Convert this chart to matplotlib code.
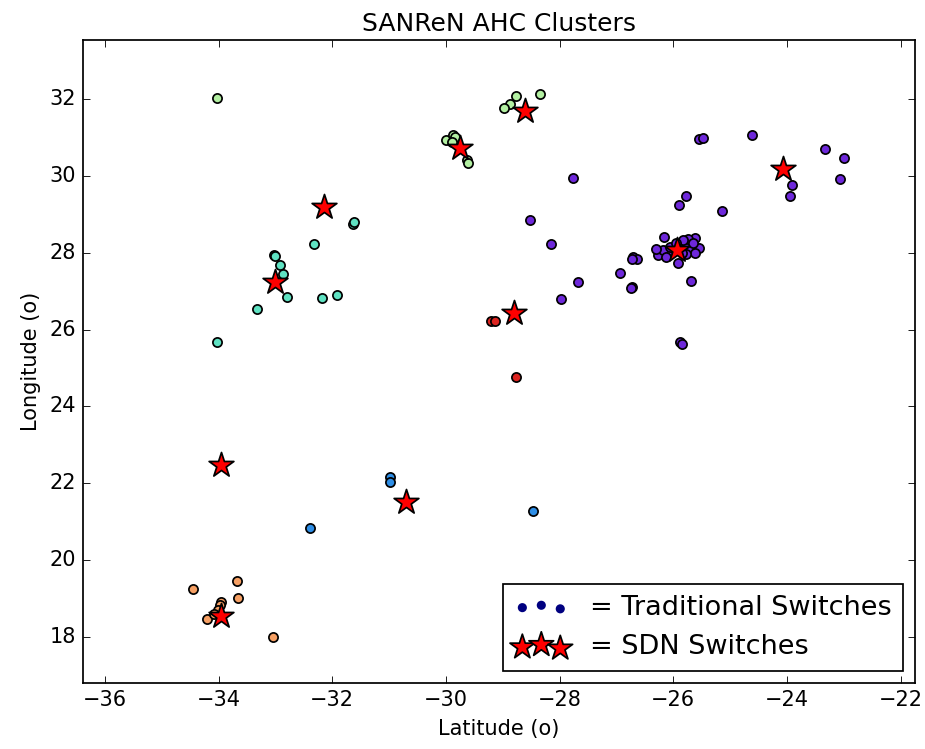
import matplotlib
matplotlib.use("Agg")
import matplotlib.pyplot as plt

plt.style.use("classic")

# cluster points (latitude on x, longitude on y)
purple_lat = [-25.90, -25.14, -26.16, -25.62, -25.54, -26.24, -26.27, -26.09, -26.18, -25.77,
              -25.71, -25.62, -25.78, -25.91, -26.71, -26.64, -26.73, -26.93, -26.72, -26.75,
              -25.69, -25.74, -25.83, -26.05, -25.95, -26.30, -25.65, -26.12, -25.85,
              -28.52, -28.15, -27.68, -27.98, -27.77, -25.78, -25.88, -25.84, -24.62, -25.55,
              -25.48, -23.33, -22.99, -23.06, -23.91, -23.94]
purple_lon = [29.25, 29.08, 28.41, 28.39, 28.11, 28.02, 27.94, 27.94, 28.07, 28.24,
              28.07, 27.98, 27.96, 27.72, 27.89, 27.84, 27.83, 27.48, 27.10, 27.07,
              27.27, 28.37, 28.33, 28.15, 28.25, 28.10, 28.25, 27.90, 28.00,
              28.85, 28.22, 27.24, 26.79, 29.94, 29.47, 25.67, 25.62, 31.07, 30.95,
              30.98, 30.71, 30.46, 29.92, 29.76, 29.47]

blue_lat = [-30.99, -30.99, -32.39, -28.47]
blue_lon = [22.16, 22.02, 20.83, 21.27]

teal_lat = [-31.63, -31.61, -32.32, -33.03, -33.00, -32.92, -32.87, -32.80, -32.18, -31.92,
            -33.33, -34.02]
teal_lon = [28.76, 28.81, 28.22, 27.93, 27.91, 27.68, 27.44, 26.85, 26.83, 26.90,
            26.53, 25.68]

green_lat = [-28.77, -28.35, -28.87, -28.97, -29.99, -29.88, -29.84, -29.90, -29.63, -29.61, -34.03]
green_lon = [32.09, 32.13, 31.86, 31.78, 30.93, 31.06, 31.00, 30.89, 30.41, 30.34, 32.02]

orange_lat = [-34.45, -33.67, -33.66, -33.95, -33.98, -34.01, -34.21, -33.04, -34.08]
orange_lon = [19.24, 19.45, 19.02, 18.91, 18.83, 18.70, 18.46, 17.99, 18.60]

red_lat = [-29.20, -29.14, -28.76]
red_lon = [26.23, 26.22, 24.77]

# SDN switch locations
sdn_lat = [-28.61, -29.75, -32.15, -33.00, -28.80, -25.94, -24.07, -33.96, -30.70, -33.95]
sdn_lon = [31.70, 30.72, 29.20, 27.24, 26.42, 28.07, 30.17, 22.47, 21.51, 18.54]

fig = plt.figure(figsize=(7.4, 5.992), dpi=125)
ax = fig.add_axes([0.090, 0.0877, 0.899, 0.859])

clusters = [
    (purple_lat, purple_lon, "#6e28da"),
    (blue_lat, blue_lon, "#2e8ee6"),
    (teal_lat, teal_lon, "#5fe2c2"),
    (green_lat, green_lon, "#b3f0a2"),
    (orange_lat, orange_lon, "#f6a064"),
    (red_lat, red_lon, "#dc2420"),
]
for la, lo, col in clusters:
    ax.scatter(la, lo, c=col, s=28, edgecolors="k", linewidths=1)

ax.scatter(sdn_lat, sdn_lon, c="r", marker="*", s=225, edgecolors="k", linewidths=1)

# legend proxies
ax.scatter([], [], c="navy", s=18, edgecolors="navy", label="= Traditional Switches")
ax.scatter([], [], c="r", marker="*", s=225, edgecolors="k", linewidths=1, label="= SDN Switches")

ax.set_xlim(-36.38, -21.75)
ax.set_ylim(16.79, 33.54)
ax.set_xticks(range(-36, -21, 2))
ax.set_yticks(range(18, 33, 2))
ax.set_xlabel("Latitude (o)")
ax.set_ylabel("Longitude (o)")
ax.set_title("SANReN AHC Clusters")
ax.legend(loc="lower right", scatterpoints=3, fontsize=15.6, borderaxespad=0.45)

fig.savefig("out.png", dpi=125)
